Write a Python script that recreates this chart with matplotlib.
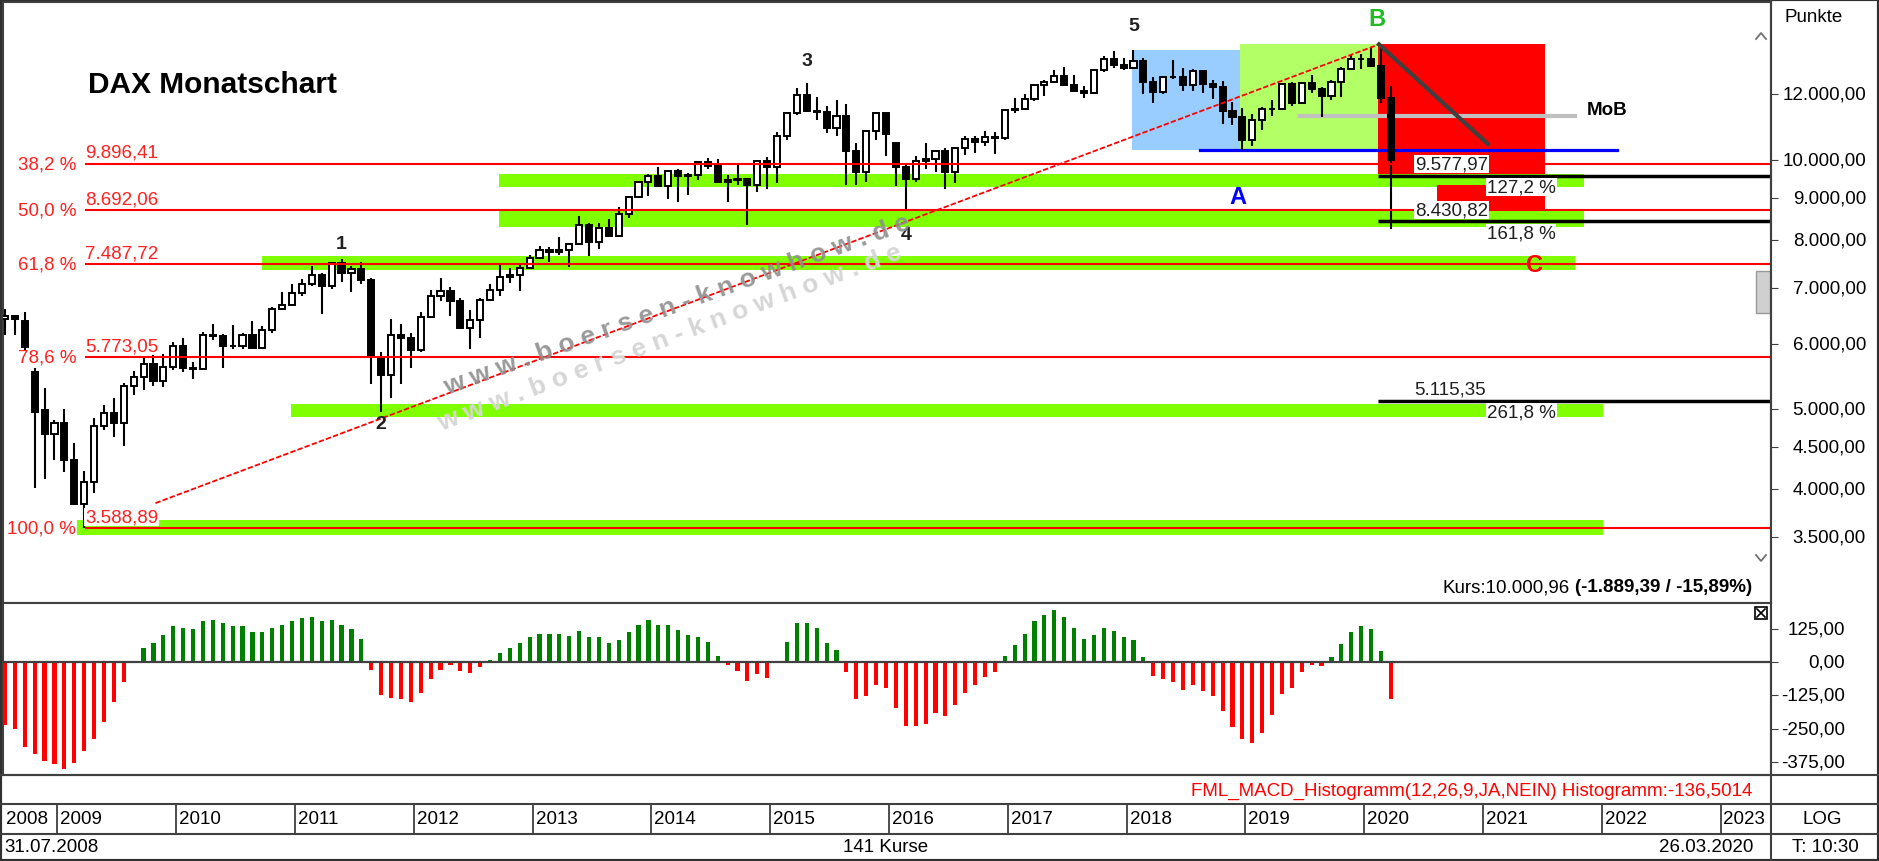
import numpy as np
import matplotlib
matplotlib.use("Agg")
import matplotlib.pyplot as plt
from matplotlib.lines import Line2D
from matplotlib.patches import Rectangle
from matplotlib.transforms import blended_transform_factory

# monthly DAX candles, first candle is July 2008
first_year, first_month = 2008, 7
opens = [6418, 6479, 6384, 5550, 4988, 4669,
         4810, 4338, 3843, 4085, 4770, 4941, 4809, 5332, 5465, 5675, 5415, 5625,
         5957, 5608, 5598, 6154, 6136, 5965, 5966, 6148, 5925, 6229, 6601, 6688,
         6914, 7077, 7272, 7041, 7514, 7294, 7376, 7159, 5784, 5502, 6141, 6089,
         5898, 6458, 6856, 6947, 6761, 6264, 6416, 6772, 6970, 7216, 7260, 7405,
         7612, 7776, 7742, 7795, 7914, 8349, 7959, 8276, 8104, 8594, 9033, 9406,
         9552, 9306, 9692, 9556, 9603, 9943, 9833, 9407, 9470, 9474, 9327, 9963,
         9806, 10694, 11402, 11966, 11454, 11413, 10945, 11309, 10259, 9660, 10850, 11382,
         10486, 9798, 9495, 9966, 10039, 10263, 9680, 10337, 10593, 10511, 10665, 10640,
         11481, 11535, 11834, 12313, 12438, 12615, 12325, 12118, 12056, 12829, 13230, 13024,
         12918, 13189, 12436, 12097, 12612, 12605, 12306, 12806, 12364, 12247, 11448, 11257,
         10559, 11173, 11516, 11526, 12344, 11727, 12399, 12189, 11939, 12428, 12867, 13236,
         13249, 12981, 11890]
highs = [6600, 6501, 6550, 5600, 5300, 4850,
         4999, 4546, 4204, 4883, 5055, 5160, 5376, 5555, 5761, 5888, 5826, 6026,
         6095, 5697, 6190, 6341, 6161, 6325, 6174, 6387, 6304, 6646, 6920, 7088,
         7180, 7441, 7294, 7527, 7600, 7450, 7524, 7200, 5862, 6430, 6333, 6179,
         6545, 6971, 7194, 7017, 6821, 6585, 6814, 7077, 7478, 7407, 7458, 7684,
         7871, 7860, 8074, 7948, 8558, 8400, 8390, 8494, 8770, 9052, 9424, 9620,
         9794, 9722, 9740, 9651, 9962, 10051, 10033, 9595, 9891, 9518, 9979, 10093,
         10810, 11420, 12219, 12391, 11921, 11635, 11802, 11670, 10473, 10880, 11431, 11390,
         10500, 9906, 10120, 10486, 10280, 10333, 10350, 10703, 10694, 10827, 10803, 11485,
         11893, 12032, 12320, 12486, 12842, 12952, 12676, 12299, 12855, 13339, 13526, 13290,
         13597, 13291, 12592, 12646, 13205, 12919, 12887, 12843, 12503, 12459, 11749, 11564,
         11362, 11582, 11823, 12380, 12435, 12438, 12656, 12250, 12494, 12963, 13374, 13426,
         13640, 13795, 12289]
lows = [6143, 6146, 5900, 4014, 4121, 4335,
        4200, 3825, 3589, 3956, 4715, 4627, 4516, 5195, 5280, 5336, 5321, 5570,
        5540, 5433, 5571, 6068, 5607, 5910, 5906, 5920, 5922, 6175, 6580, 6680,
        6851, 7040, 6514, 6980, 7117, 6920, 7081, 5364, 4966, 5159, 5366, 5608,
        5860, 6440, 6748, 6474, 6259, 5914, 6100, 6750, 6858, 7097, 6950, 7390,
        7600, 7530, 7686, 7419, 7899, 7655, 7800, 8089, 8080, 8512, 8992, 9035,
        9300, 8970, 8903, 9073, 9460, 9745, 9386, 8903, 9317, 8355, 9151, 9219,
        9382, 10560, 11336, 11421, 11178, 10776, 10677, 9338, 9325, 9394, 10575, 10123,
        9314, 8699, 9405, 9749, 9663, 9214, 9391, 10147, 10200, 10396, 10175, 10561,
        11401, 11494, 11800, 11960, 12400, 12314, 12104, 11868, 12021, 12788, 12932, 12849,
        12870, 12003, 11727, 12000, 12544, 12104, 12104, 12057, 11865, 11051, 11009, 10279,
        10387, 10864, 11299, 11500, 11620, 11700, 12051, 11266, 11826, 11924, 12850, 12887,
        12948, 11724, 8256]
closes = [6479, 6422, 5940, 4967, 4669, 4810,
          4338, 3843, 4085, 4770, 4941, 4809, 5332, 5465, 5675, 5415, 5625, 5957,
          5608, 5598, 6154, 6136, 5965, 5966, 6148, 5925, 6229, 6601, 6688, 6914,
          7077, 7272, 7041, 7514, 7294, 7376, 7159, 5784, 5502, 6141, 6089, 5898,
          6458, 6856, 6947, 6761, 6264, 6416, 6772, 6970, 7216, 7260, 7405, 7612,
          7776, 7742, 7795, 7914, 8349, 7959, 8276, 8104, 8594, 9033, 9406, 9552,
          9306, 9692, 9556, 9603, 9943, 9833, 9407, 9470, 9474, 9327, 9963, 9806,
          10694, 11402, 11966, 11454, 11413, 10945, 11309, 10259, 9660, 10850, 11382, 10743,
          9798, 9495, 9966, 10039, 10263, 9680, 10337, 10593, 10511, 10665, 10640, 11481,
          11535, 11834, 12313, 12438, 12615, 12325, 12118, 12056, 12829, 13230, 13024, 12918,
          13189, 12436, 12097, 12612, 12605, 12306, 12806, 12364, 12247, 11448, 11257, 10559,
          11173, 11516, 11526, 12344, 11727, 12399, 12189, 11939, 12428, 12867, 13236, 13249,
          12981, 11890, 10001]

macd_hist = [-235, -253, -320, -347, -370, -383, -402, -379, -334, -290, -225, -150, -75, 0,
             52, 71, 101, 135, 129, 124, 153, 158, 146, 135, 135, 112, 112, 129, 140, 153,
             164, 170, 153, 158, 140, 123, 88,
             -29, -123, -135, -140, -151, -116, -64, -29, -11, -35, -41, -18,
             7, 35, 52, 71, 95, 105, 105, 105, 99, 116, 94, 94, 70, 81, 111, 140, 159,
             140, 140, 122, 100, 94, 76, 24,
             -10, -35, -70, -46, -60, 0,
             76, 146, 146, 129, 70, 46,
             -39, -139, -129, -86, -98, -174, -240, -240, -232, -191, -203, -161, -116,
             -85, -57, -39,
             24, 65, 106, 153, 176, 194, 170, 129, 88, 100, 129, 118, 94, 81, 18,
             -51, -64, -74, -104, -86, -109, -128, -184, -245, -290, -305, -265, -200,
             -119, -96, -38, -12, -15,
             18, 66, 111, 136, 124, 41,
             -137]

fib_names = ["38,2 %", "50,0 %", "61,8 %", "78,6 %", "100,0 %"]
fib_levels = [9896.41, 8692.06, 7487.72, 5773.05, 3588.89]
fib_texts = ["9.896,41", "8.692,06", "7.487,72", "5.773,05", "3.588,89"]

ext_names = ["127,2 %", "161,8 %", "261,8 %"]
ext_levels = [9577.97, 8430.82, 5115.35]
ext_texts = ["9.577,97", "8.430,82", "5.115,35"]

# green support zones (month index from / to, price low / high)
zone_from = [49.9, 49.9, 26.0, 28.9, 7.3]
zone_to = [159.5, 159.5, 158.6, 161.4, 161.4]
zone_low = [9277, 8298, 7369, 4889, 3522]
zone_high = [9618, 8667, 7662, 5067, 3670]

wave_names = ["1", "2", "3", "4", "5"]
wave_month = [34, 38, 81, 91, 114]

price_ticks = [3500, 4000, 4500, 5000, 6000, 7000, 8000, 9000, 10000, 12000]
price_labels = ["3.500,00", "4.000,00", "4.500,00", "5.000,00", "6.000,00",
                "7.000,00", "8.000,00", "9.000,00", "10.000,00", "12.000,00"]
macd_ticks = [125, 0, -125, -250, -375]
macd_labels = ["125,00", "0,00", "-125,00", "-250,00", "-375,00"]
years = list(range(2008, 2024))

W, H = 1879, 862
plt.rcParams['font.family'] = ['Liberation Sans', 'DejaVu Sans']
plt.rcParams['font.size'] = 13.5
fig = plt.figure(figsize=(W / 100, H / 100), dpi=100)
fig.patch.set_facecolor('white')


def fx(px):
    return px / W


def fy(py):
    return 1 - py / H


def box(x0, y0, x1, y1):
    return [fx(x0), fy(y1), (x1 - x0) / W, (y1 - y0) / H]


XL = (-0.2, 178.4)
ax = fig.add_axes(box(3, 3, 1771, 604))
ax_macd = fig.add_axes(box(3, 604, 1771, 776))
ax_year = fig.add_axes(box(3, 805, 1771, 835))
for a in (ax, ax_macd, ax_year):
    a.set_xlim(*XL)
    a.set_xticks([])
    for s in a.spines.values():
        s.set_color('#404040')
        s.set_linewidth(1.5)

# ---- main price panel
ax.set_yscale('log')
ax.set_ylim(2916, 15520)
ax.yaxis.set_minor_locator(plt.NullLocator())
ax.set_yticks(price_ticks)
ax.set_yticklabels([])
ax.tick_params(axis='y', left=False, right=True, length=5, color='#404040')
ptrans = blended_transform_factory(fig.transFigure, ax.transData)
for t, lab in zip(price_ticks, price_labels):
    ax.text(fx(1866), t, lab, transform=ptrans, ha='right', va='center', clip_on=False)

n = len(closes)
x = np.arange(n)
o = np.array(opens, float)
c = np.array(closes, float)
lo_b = np.minimum(o, c)
hi_b = np.maximum(o, c)
ax.vlines(x, lows, highs, color='black', lw=1.5, zorder=6)
ax.bar(x, hi_b - lo_b, bottom=lo_b, width=0.62,
       color=np.where(c >= o, 'white', 'black'), edgecolor='black', linewidth=1.4, zorder=7)

# zones and boxes
for f, t, zl, zh in zip(zone_from, zone_to, zone_low, zone_high):
    ax.fill_between([f, t], [zl, zl], [zh, zh], color='#80FF00', lw=0, zorder=2)

a_low, top5, b_high = lows[125], highs[114], highs[139]
ax.fill_between([113.8, 124.8], a_low, top5, color='#99CCFF', lw=0, zorder=1)
ax.fill_between([124.8, 138.7], a_low, b_high, color='#B3FF66', lw=0, zorder=1)
ax.fill_between([138.7, 155.6], ext_levels[0], b_high, color='#FF0000', lw=0, zorder=1)
ax.fill_between([144.7, 155.6], 8677, 9330, color='#FF0000', lw=0, zorder=3)

# fibonacci retracement lines
for name, lev, txt in zip(fib_names, fib_levels, fib_texts):
    ax.hlines(lev, 8.08, XL[1], color='#FF0000', lw=1.5, zorder=9)
    ax.text(fx(76), lev, name, transform=ptrans, ha='right', va='center', color='#FF2020', zorder=12)
    ax.annotate(txt, xy=(8.08, lev), xytext=(0, 3), textcoords='offset pixels',
                ha='left', va='bottom', color='#FF2020', zorder=12,
                bbox=dict(facecolor='white', edgecolor='none', pad=0.5))

# extension lines
for name, lev, txt in zip(ext_names, ext_levels, ext_texts):
    ax.hlines(lev, 138.7, XL[1], color='black', lw=2.5, zorder=9)
    ax.annotate(txt, xy=(142.4, lev), xytext=(0, 3), textcoords='offset pixels',
                ha='left', va='bottom', color='#202020', zorder=12,
                bbox=dict(facecolor='white', edgecolor='none', pad=0.5))
    ax.annotate(name, xy=(149.7, lev), xytext=(0, -3), textcoords='offset pixels',
                ha='left', va='top', color='#202020', zorder=12,
                bbox=dict(facecolor='white', edgecolor='none', pad=0.5))

# trend line, B line, MoB, A line
ax.plot([15.2, 138.8], [3850, b_high], color='#FF0000', lw=1.3, dashes=(3, 1.2), zorder=9)
ax.plot([138.8, 149.8], [b_high, 10455], color='#404040', lw=3, zorder=9)
ax.plot([130.8, 158.6], [lows[133] + 45, lows[133] + 45], color='#C0C0C0', lw=3, zorder=5)
ax.text(159.8, 11493, 'MoB', ha='left', va='center', fontweight='bold', zorder=12)
ax.plot([120.7, 162.8], [a_low, a_low], color='#0000FF', lw=2.3, zorder=5)

# wave labels
wave_off = [15, -12, 22, -24, 24]
for name, m, off in zip(wave_names, wave_month, wave_off):
    yv = highs[m] if off > 0 else lows[m]
    ax.annotate(name, xy=(m, yv), xytext=(0, off), textcoords='offset pixels',
                ha='center', va='center', fontsize=14, fontweight='bold', color='#202020', zorder=12)
ax.text(124.5, 9047, 'A', color='#0000FF', fontsize=17, fontweight='bold', ha='center', va='center', zorder=12)
ax.text(138.6, 14804, 'B', color='#22BB22', fontsize=17, fontweight='bold', ha='center', va='center', zorder=12)
ax.text(154.5, 7467, 'C', color='#FF0000', fontsize=17, fontweight='bold', ha='center', va='center', zorder=12)

fig.text(fx(88), fy(85), 'DAX Monatschart', fontsize=21.5, fontweight='bold', ha='left', va='center')

# ---- MACD histogram
ax_macd.set_ylim(-424, 221.5)
mh = np.array(macd_hist, float)
ax_macd.bar(x, mh, width=0.42, color=np.where(mh >= 0, '#008000', '#FF0000'), zorder=3)
ax_macd.axhline(0, color='#404040', lw=1.6, zorder=4)
ax_macd.set_yticks(macd_ticks)
ax_macd.set_yticklabels([])
ax_macd.tick_params(axis='y', left=False, right=True, length=5, color='#404040')
mtrans = blended_transform_factory(fig.transFigure, ax_macd.transData)
for t, lab in zip(macd_ticks, macd_labels):
    ax_macd.text(fx(1845), t, lab, transform=mtrans, ha='right', va='center', clip_on=False)

# ---- year row
ax_year.set_ylim(0, 1)
ax_year.set_yticks([])
for s in ax_year.spines.values():
    s.set_visible(False)
for yr in years:
    sep = (yr - first_year) * 12 + (1 - first_month) - 0.7
    if sep > XL[0]:
        ax_year.axvline(sep, color='#404040', lw=1.3)
    ax_year.text(max(sep, XL[0]) + 0.3, 0.5, str(yr), ha='left', va='center', clip_on=True)

# ---- watermark
wm = "w w w . b o e r s e n - k n o w h o w . d e"
fig.text(fx(670), fy(338), wm, rotation=20.5, rotation_mode='anchor', ha='center', va='center',
         fontsize=19, fontweight='bold', color='#D6D6D6', zorder=20)
fig.text(fx(677), fy(305), wm, rotation=19.7, rotation_mode='anchor', ha='center', va='center',
         fontsize=19, fontweight='bold', color='#8E8E8E', alpha=0.9, zorder=21)

# ---- texts and frame
fig.text(fx(1785), fy(17), 'Punkte', ha='left', va='center')
kb = fig.text(fx(1752), fy(588), '(-1.889,39 / -15,89%)', ha='right', va='center', fontweight='bold')
fig.canvas.draw()
bb = kb.get_window_extent()
fig.text((bb.x0 - 5) / W, fy(588), 'Kurs:10.000,96', ha='right', va='center')
fig.text(fx(1752), fy(791), 'FML_MACD_Histogramm(12,26,9,JA,NEIN) Histogramm:-136,5014',
         ha='right', va='center', color='#FF0000')
fig.text(fx(1803), fy(820), 'LOG', ha='left', va='center')
fig.text(fx(4), fy(848), '31.07.2008', ha='left', va='center')
fig.text(fx(886), fy(848), '%d Kurse' % n, ha='center', va='center')
fig.text(fx(1753), fy(848), '26.03.2020', ha='right', va='center')
fig.text(fx(1792), fy(848), 'T: 10:30', ha='left', va='center')

for py in (776, 805, 835):
    fig.add_artist(Line2D([0, 1], [fy(py), fy(py)], color='#404040', lw=1.5))
fig.add_artist(Line2D([fx(1771), fx(1771)], [0, 1], color='#404040', lw=1.5))
fig.add_artist(Rectangle((0, 0), 1, 1, transform=fig.transFigure, fill=False,
                         edgecolor='#303030', lw=3))

# scroll widgets / close box
for ya, d in ((37, 1), (559, -1)):
    fig.add_artist(Line2D([fx(1756), fx(1761), fx(1766)],
                          [fy(ya + 3 * d), fy(ya - 3 * d), fy(ya + 3 * d)], color='#707070', lw=1.3))
fig.add_artist(Rectangle((fx(1756), fy(314)), 14 / W, 42 / H, transform=fig.transFigure,
                         facecolor='#D0D0D0', edgecolor='#999999', lw=1))
fig.add_artist(Rectangle((fx(1755), fy(620)), 12 / W, 12 / H, transform=fig.transFigure,
                         fill=False, edgecolor='black', lw=1.2))
fig.add_artist(Line2D([fx(1757), fx(1765)], [fy(610), fy(618)], color='black', lw=1.2))
fig.add_artist(Line2D([fx(1757), fx(1765)], [fy(618), fy(610)], color='black', lw=1.2))

fig.savefig('out.png', dpi=100)
